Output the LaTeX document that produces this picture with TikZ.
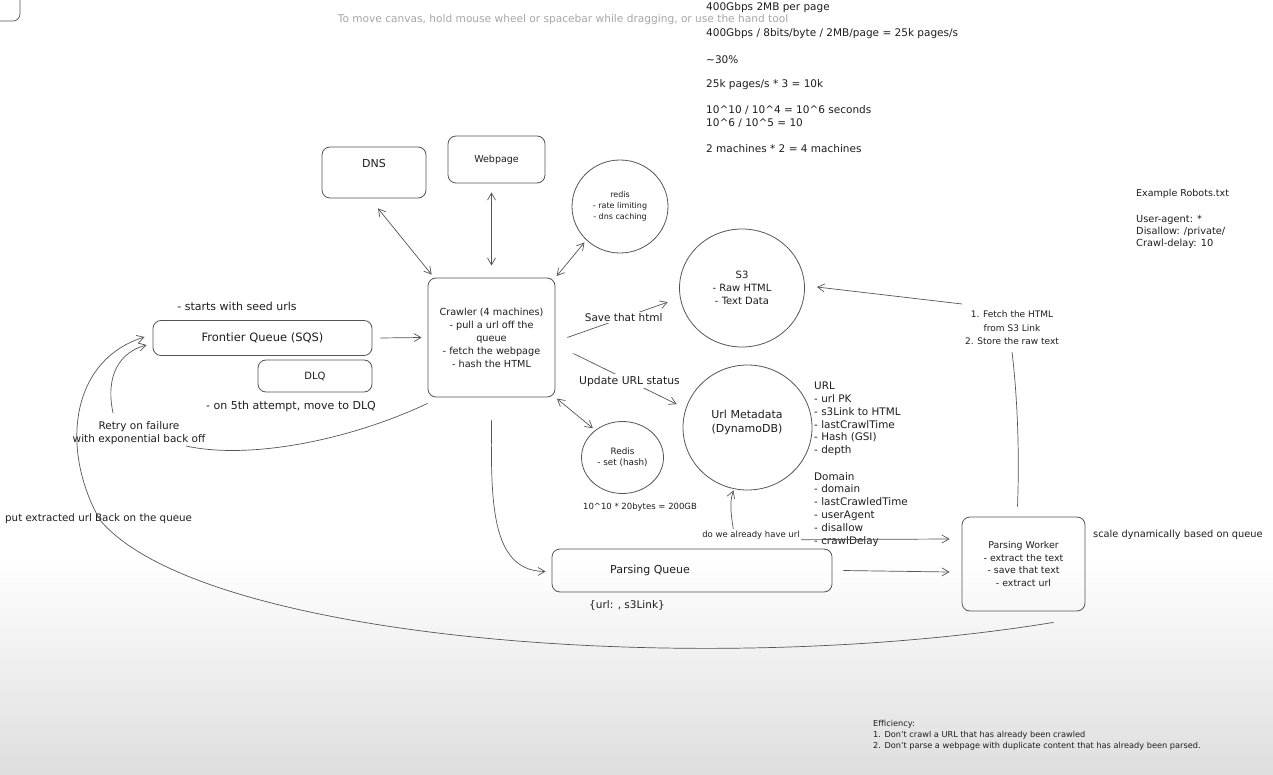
\documentclass[tikz,border=0pt]{standalone}
\usepackage{fontspec}
\setmainfont{DejaVu Sans}
\usetikzlibrary{arrows.meta,shapes.geometric}
\definecolor{ln}{HTML}{555555}
\definecolor{tx}{HTML}{1E1E1E}
\newcommand{\fs}[2]{\fontsize{#1}{#2}\selectfont}
\begin{document}
\begin{tikzpicture}[x=1pt,y=-1pt,
  box/.style={draw=ln, line width=0.8pt, rounded corners=8pt, inner sep=0pt},
  circ/.style={draw=ln, line width=0.8pt, ellipse, inner sep=0pt},
  t/.style={text=tx, font=\fs{10}{13}, align=center, inner sep=0pt},
  tl/.style={text=tx, font=\fs{10}{12.8}, align=left, inner sep=0pt},
  con/.style={draw=ln, line width=0.7pt},
  arr/.style={con, -{Straight Barb[length=7pt,width=8pt]}},
  darr/.style={con, {Straight Barb[length=7pt,width=8pt]}-{Straight Barb[length=7pt,width=8pt]}},
  lab/.style={t, fill=white, inner sep=1.5pt},
]
% background
\fill[white] (0,0) rectangle (1273,775);
\shade[top color=white, bottom color=black!13] (0,560) rectangle (1273,775);
\useasboundingbox (0,0) rectangle (1273,775);

% partial box top-left
\draw[con, rounded corners=7pt] (-2,21) -- (20,21) -- (20,-2);

% hint
\node[text=black!35, font=\fs{10.6}{12}, inner sep=0pt] (hint) at (563,20) {To move canvas, hold mouse wheel or spacebar while dragging, or use the hand tool};

% notes top right
\node[tl, anchor=west, font=\fs{10.5}{12}] (n1) at (706,8) {400Gbps 2MB per page};
\node[tl, anchor=west, font=\fs{10.5}{12}] (n2) at (706,34) {400Gbps / 8bits/byte / 2MB/page = 25k pages/s};
\node[tl, anchor=west, font=\fs{10.5}{12}] (n3) at (706,60) {\textasciitilde30\%};
\node[tl, anchor=west, font=\fs{10.5}{12}] (n4) at (706,85) {25k pages/s * 3 = 10k};
\node[tl, anchor=west, font=\fs{10.5}{12}] (n5) at (706,110) {10\textasciicircum10 / 10\textasciicircum4 = 10\textasciicircum6 seconds};
\node[tl, anchor=west, font=\fs{10.5}{12}] (n6) at (706,123) {10\textasciicircum6 / 10\textasciicircum5 = 10};
\node[tl, anchor=west, font=\fs{10.5}{12}] (n7) at (706,149) {2 machines * 2 = 4 machines};

% robots
\node[tl, anchor=west, font=\fs{9.5}{12}] (rb1) at (1136,194) {Example Robots.txt};
\node[tl, anchor=west, font=\fs{9.8}{12}] (rb2) at (1136,220) {User-agent: *};
\node[tl, anchor=west, font=\fs{9.8}{12}] (rb3) at (1136,232) {Disallow: /private/};
\node[tl, anchor=west, font=\fs{9.8}{12}] (rb4) at (1136,244) {Crawl-delay: 10};

% main nodes
\node[box, minimum width=104pt, minimum height=51pt] (dns) at (374,172.5) {};
\node[t, font=\fs{11}{13}] (dnst) at (374,163) {DNS};
\node[box, minimum width=97pt, minimum height=47pt] (web) at (496.5,159.5) {};
\node[t, font=\fs{9.5}{13}] (webt) at (496.5,160) {Webpage};
\node[circ, minimum width=96pt, minimum height=93pt, t, font=\fs{8}{11}] (rd) at (620,206.5) {redis\\- rate limiting\\- dns caching};

\node[box, minimum width=127pt, minimum height=119pt, t, font=\fs{9.7}{13}] (cr) at (491.5,337.5) {Crawler (4 machines)\\- pull a url off the\\queue\\- fetch the webpage\\- hash the HTML};

\node[circ, minimum width=125pt, minimum height=118pt, t, font=\fs{10}{13}] (s3) at (742,288) {S3\\- Raw HTML\\- Text Data};
\node[circ, minimum width=129pt, minimum height=125pt] (um) at (747.5,427.5) {};
\node[t, font=\fs{11}{14}] (umt) at (747,422) {Url Metadata\\(DynamoDB)};
\node[circ, minimum width=82pt, minimum height=72pt, t, font=\fs{8.8}{11}] (rs) at (622.5,457.5) {Redis\\- set (hash)};

\node[box, minimum width=219pt, minimum height=35pt, t, font=\fs{11.5}{13}] (fq) at (262.5,338) {Frontier Queue (SQS)};
\node[box, minimum width=114pt, minimum height=32pt, t, font=\fs{10}{13}] (dlq) at (315,376) {DLQ};
\node[box, minimum width=280pt, minimum height=43pt] (pq) at (692,570.5) {};
\node[t, font=\fs{11}{13}] (pqt) at (650,570) {Parsing Queue};
\node[box, minimum width=123pt, minimum height=94pt, t, font=\fs{9.4}{12.7}] (pw) at (1023.5,564) {Parsing Worker\\- extract the text\\- save that text\\- extract url};

% free texts
\node[t, font=\fs{11}{13}] (seed) at (237,306) {- starts with seed urls};
\node[t, font=\fs{11}{13}] (fifth) at (291,406) {- on 5th attempt, move to DLQ};
\node[t, font=\fs{10.5}{13}] (retry) at (139,433.5) {Retry on failure\\with exponential back off};
\node[t, anchor=west, font=\fs{10.3}{13}] (putb) at (5,519) {put extracted url Back on the queue};
\node[t, font=\fs{8.5}{13}] (calc) at (640,507) {10\textasciicircum10 * 20bytes = 200GB};
\node[t, font=\fs{10.5}{13}] (shape) at (627,605) {\{url: , s3Link\}};
\node[t, anchor=west, font=\fs{9.8}{13}] (scale) at (1093,535) {scale dynamically based on queue};
\node[tl, anchor=north west, font=\fs{10.4}{12.8}] (urlf) at (814,382) {URL\\- url PK\\- s3Link to HTML\\- lastCrawlTime\\- Hash (GSI)\\- depth};
\node[tl, anchor=north west, font=\fs{10.4}{12.8}] (domf) at (814,472) {Domain\\- domain\\- lastCrawledTime\\- userAgent\\- disallow\\- crawlDelay};
\node[text=tx, font=\fs{8.2}{10.8}, align=left, inner sep=0pt, anchor=north west] (eff) at (873,720) {Efficiency:\\1. Don't crawl a URL that has already been crawled\\2. Don't parse a webpage with duplicate content that has already been parsed.};

% connectors
\draw[darr] ([shift={(4,10)}]dns.south) -- ([shift={(4,-3)}]cr.north west);
\draw[darr] ([shift={(-5,9)}]web.south) -- ([shift={(0,-12)}]cr.north);
\draw[darr, shorten <=2pt, shorten >=3pt] (cr.north east) -- (rd.225);
\draw[darr, shorten <=2pt, shorten >=3pt] (cr.south east) -- (rs.135);
\draw[arr] ([shift={(8,0)}]fq.east) -- ([shift={(-6,0)}]cr.west);

\draw[arr, shorten >=13pt] ([shift={(12,0)}]cr.east) -- (s3.189) node[lab, midway, font=\fs{10.5}{13}] (sv) {Save that html};
\draw[arr, shorten >=10pt] ([shift={(18,16)}]cr.east) -- (um.163) node[lab, midway, font=\fs{10.8}{13}] (upd) {Update URL status};

\draw[darr] ([shift={(-14,0)}]um.south) .. controls (728,505) and (733,525) .. (735,540) -- ([shift={(-12,-25)}]pw.west);
\node[lab, font=\fs{8.5}{10}] (dq) at (751,535) {do we already have url};

\draw[arr] ([shift={(0,23)}]cr.south) .. controls (491,500) and (490,571) .. ([shift={(-6,1)}]pq.west);
\draw[arr] ([shift={(11,0)}]pq.east) -- ([shift={(-12,8)}]pw.west);

\coordinate (fl1) at (1012,352);
\coordinate (fl2) at (962,304);
\draw[con] ([shift={(-6,-10)}]pw.north) .. controls (1020,440) and (1016,385) .. (fl1);
\node[t, font=\fs{9}{13.5}] (fetch) at (1012,328) {1. Fetch the HTML\\from S3 Link\\2. Store the raw text};
\draw[arr] (fl2) -- ([shift={(12,-1)}]s3.east);

\coordinate (rt1) at (186,446);
\coordinate (rt2) at (113,413);
\draw[con] ([shift={(0,6)}]cr.south west) .. controls (350,440) and (250,460) .. (rt1);
\draw[arr] (rt2) .. controls (105,375) and (120,352) .. ([shift={(-6,7)}]fq.west);

\draw[arr] ([shift={(30,11)}]pw.south) .. controls (700,680) and (200,640) .. (100,520) .. controls (60,450) and (70,360) .. ([shift={(-8,-1)}]fq.west);
\end{tikzpicture}
\end{document}
